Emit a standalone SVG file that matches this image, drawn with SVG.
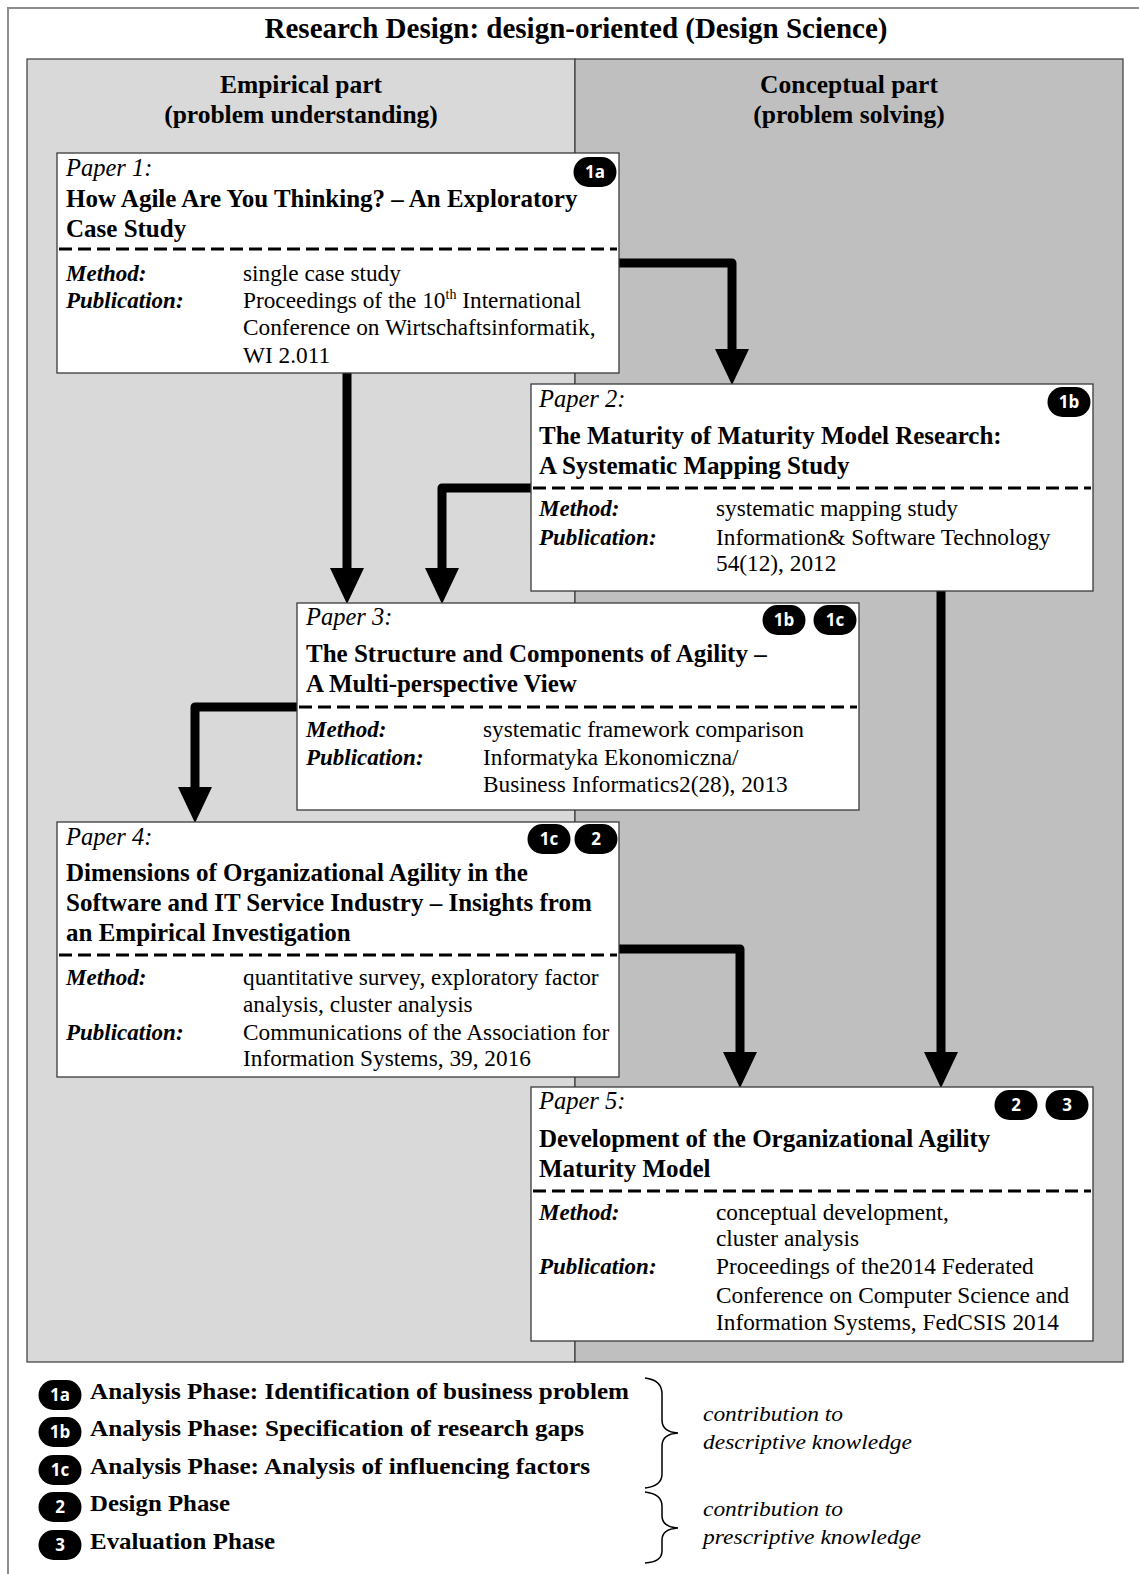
<svg xmlns="http://www.w3.org/2000/svg" width="1139" height="1574" viewBox="0 0 1139 1574">
  <style>
    .frame { fill: #ffffff; stroke: #8c8c8c; stroke-width: 2; }
    .panel { stroke: #3a3a3a; stroke-width: 1.2; }
    .box { fill: #ffffff; stroke: #3a3a3a; stroke-width: 1.3; }
    .sep { stroke: #000000; stroke-width: 3; stroke-dasharray: 13 6; }
    .t { font-family: "Liberation Serif", "Times New Roman", serif; fill: #000000; }
    .h1 { font-size: 29px; font-weight: bold; }
    .h2 { font-size: 25.5px; font-weight: bold; text-anchor: middle; }
    .lbl { font-size: 24.5px; font-style: italic; }
    .ttl { font-size: 25px; font-weight: bold; }
    .key { font-size: 23px; font-weight: bold; font-style: italic; }
    .val { font-size: 23.3px; }
    .leg { font-size: 23px; font-weight: bold; }
    .note { font-size: 21px; font-style: italic; }
    .badge rect { fill: #262626; stroke: #ffffff; stroke-width: 1; }
    .badge text { font-family: "Open Sans", "Noto Sans", sans-serif; font-size: 17px; font-weight: bold; fill: #ffffff; text-anchor: middle; }
    .arrow { fill: none; stroke: #000000; stroke-width: 9; stroke-linejoin: round; marker-end: url(#head); }
    .brace { fill: none; stroke: #000000; stroke-width: 1.5; }
  </style>
  <defs>
    <marker id="head" markerUnits="userSpaceOnUse" markerWidth="36" markerHeight="34" viewBox="0 0 36 34" refX="1" refY="17" orient="auto">
      <path d="M0,0 L36,17 L0,34 z" fill="#000000"/>
    </marker>
    <g id="pill">
      <rect x="-21.5" y="-15" width="43" height="30" rx="15" ry="15"/>
    </g>
  </defs>

  <!-- outer frame and title -->
  <rect class="frame" x="8" y="8" width="1140" height="1580"/>
  <text class="t h1" x="576" y="38" text-anchor="middle">Research Design: design-oriented (Design Science)</text>

  <!-- two columns -->
  <g id="columns">
    <rect class="panel" x="27" y="59" width="548" height="1303" fill="#d9d9d9"/>
    <rect class="panel" x="575" y="59" width="548" height="1303" fill="#bfbfbf"/>
    <text class="t h2" x="301" y="93">Empirical part</text>
    <text class="t h2" x="301" y="123">(problem understanding)</text>
    <text class="t h2" x="849" y="93">Conceptual part</text>
    <text class="t h2" x="849" y="123">(problem solving)</text>
  </g>

  <!-- connectors -->
  <g id="connectors">
    <path class="arrow" d="M619,263 H732 V350"/>
    <path class="arrow" d="M347,373 V569"/>
    <path class="arrow" d="M531,488 H442 V569"/>
    <path class="arrow" d="M297,707 H195 V788"/>
    <path class="arrow" d="M941,591 V1053"/>
    <path class="arrow" d="M619,949 H740 V1053"/>
  </g>

  <!-- Paper 1 -->
  <g id="paper1">
    <rect class="box" x="57" y="153" width="562" height="220"/>
    <text class="t lbl" x="66" y="176">Paper 1:</text>
    <text class="t ttl" x="66" y="207">How Agile Are You Thinking? – An Exploratory</text>
    <text class="t ttl" x="66" y="237">Case Study</text>
    <line class="sep" x1="59" y1="249" x2="617" y2="249"/>
    <text class="t key" x="66" y="281">Method:</text>
    <text class="t val" x="243" y="281">single case study</text>
    <text class="t key" x="66" y="308">Publication:</text>
    <text class="t val" x="243" y="308">Proceedings of the 10<tspan font-size="14" dy="-9">th</tspan><tspan dy="9"> International</tspan></text>
    <text class="t val" x="243" y="335">Conference on Wirtschaftsinformatik,</text>
    <text class="t val" x="243" y="363">WI 2.011</text>
    <g class="badge" transform="translate(595,172)"><use href="#pill"/><text y="6">1a</text></g>
  </g>

  <!-- Paper 2 -->
  <g id="paper2">
    <rect class="box" x="531" y="384" width="562" height="207"/>
    <text class="t lbl" x="539" y="407">Paper 2:</text>
    <text class="t ttl" x="539" y="444">The Maturity of Maturity Model Research:</text>
    <text class="t ttl" x="539" y="474">A Systematic Mapping Study</text>
    <line class="sep" x1="533" y1="488" x2="1091" y2="488"/>
    <text class="t key" x="539" y="516">Method:</text>
    <text class="t val" x="716" y="516">systematic mapping study</text>
    <text class="t key" x="539" y="545">Publication:</text>
    <text class="t val" x="716" y="545">Information&amp; Software Technology</text>
    <text class="t val" x="716" y="571">54(12), 2012</text>
    <g class="badge" transform="translate(1069,402)"><use href="#pill"/><text y="6">1b</text></g>
  </g>

  <!-- Paper 3 -->
  <g id="paper3">
    <rect class="box" x="297" y="603" width="562" height="207"/>
    <text class="t lbl" x="306" y="625">Paper 3:</text>
    <text class="t ttl" x="306" y="662">The Structure and Components of Agility –</text>
    <text class="t ttl" x="306" y="692">A Multi-perspective View</text>
    <line class="sep" x1="299" y1="707" x2="857" y2="707"/>
    <text class="t key" x="306" y="737">Method:</text>
    <text class="t val" x="483" y="737">systematic framework comparison</text>
    <text class="t key" x="306" y="765">Publication:</text>
    <text class="t val" x="483" y="765">Informatyka Ekonomiczna/</text>
    <text class="t val" x="483" y="792">Business Informatics2(28), 2013</text>
    <g class="badge" transform="translate(784,620)"><use href="#pill"/><text y="6">1b</text></g>
    <g class="badge" transform="translate(835,620)"><use href="#pill"/><text y="6">1c</text></g>
  </g>

  <!-- Paper 4 -->
  <g id="paper4">
    <rect class="box" x="57" y="822" width="562" height="255"/>
    <text class="t lbl" x="66" y="845">Paper 4:</text>
    <text class="t ttl" x="66" y="881">Dimensions of Organizational Agility in the</text>
    <text class="t ttl" x="66" y="911">Software and IT Service Industry – Insights from</text>
    <text class="t ttl" x="66" y="941">an Empirical Investigation</text>
    <line class="sep" x1="59" y1="955" x2="617" y2="955"/>
    <text class="t key" x="66" y="985">Method:</text>
    <text class="t val" x="243" y="985">quantitative survey, exploratory factor</text>
    <text class="t val" x="243" y="1012">analysis, cluster analysis</text>
    <text class="t key" x="66" y="1040">Publication:</text>
    <text class="t val" x="243" y="1040">Communications of the Association for</text>
    <text class="t val" x="243" y="1066">Information Systems, 39, 2016</text>
    <g class="badge" transform="translate(549,839)"><use href="#pill"/><text y="6">1c</text></g>
    <g class="badge" transform="translate(596,839)"><use href="#pill"/><text y="6">2</text></g>
  </g>

  <!-- Paper 5 -->
  <g id="paper5">
    <rect class="box" x="531" y="1087" width="562" height="254"/>
    <text class="t lbl" x="539" y="1109">Paper 5:</text>
    <text class="t ttl" x="539" y="1147">Development of the Organizational Agility</text>
    <text class="t ttl" x="539" y="1177">Maturity Model</text>
    <line class="sep" x1="533" y1="1191" x2="1091" y2="1191"/>
    <text class="t key" x="539" y="1220">Method:</text>
    <text class="t val" x="716" y="1220">conceptual development,</text>
    <text class="t val" x="716" y="1246">cluster analysis</text>
    <text class="t key" x="539" y="1274">Publication:</text>
    <text class="t val" x="716" y="1274">Proceedings of the2014 Federated</text>
    <text class="t val" x="716" y="1303">Conference on Computer Science and</text>
    <text class="t val" x="716" y="1330">Information Systems, FedCSIS 2014</text>
    <g class="badge" transform="translate(1016,1105)"><use href="#pill"/><text y="6">2</text></g>
    <g class="badge" transform="translate(1067,1105)"><use href="#pill"/><text y="6">3</text></g>
  </g>

  <!-- legend -->
  <g id="legend">
    <g class="badge" transform="translate(60,1395)"><use href="#pill"/><text y="6">1a</text></g>
    <g class="badge" transform="translate(60,1432)"><use href="#pill"/><text y="6">1b</text></g>
    <g class="badge" transform="translate(60,1470)"><use href="#pill"/><text y="6">1c</text></g>
    <g class="badge" transform="translate(60,1507)"><use href="#pill"/><text y="6">2</text></g>
    <g class="badge" transform="translate(60,1545)"><use href="#pill"/><text y="6">3</text></g>
    <text class="t leg" x="90" y="1399" textLength="539" lengthAdjust="spacingAndGlyphs">Analysis Phase:  Identification of business problem</text>
    <text class="t leg" x="90" y="1436" textLength="494" lengthAdjust="spacingAndGlyphs">Analysis Phase:  Specification of research gaps</text>
    <text class="t leg" x="90" y="1474" textLength="500" lengthAdjust="spacingAndGlyphs">Analysis Phase:  Analysis of influencing factors</text>
    <text class="t leg" x="90" y="1511" textLength="140" lengthAdjust="spacingAndGlyphs">Design Phase</text>
    <text class="t leg" x="90" y="1549" textLength="185" lengthAdjust="spacingAndGlyphs">Evaluation Phase</text>
    <path class="brace" d="M645,1378 Q662,1380 662,1394 V1420 Q662,1432 678,1433 Q662,1434 662,1446 V1474 Q662,1486 645,1488"/>
    <path class="brace" d="M645,1492 Q662,1494 662,1506 V1516 Q662,1527 678,1528 Q662,1529 662,1540 V1551 Q662,1562 645,1563"/>
    <text class="t note" x="703" y="1421" textLength="140" lengthAdjust="spacingAndGlyphs">contribution to</text>
    <text class="t note" x="703" y="1449" textLength="209" lengthAdjust="spacingAndGlyphs">descriptive knowledge</text>
    <text class="t note" x="703" y="1516" textLength="140" lengthAdjust="spacingAndGlyphs">contribution to</text>
    <text class="t note" x="703" y="1544" textLength="218" lengthAdjust="spacingAndGlyphs">prescriptive knowledge</text>
  </g>
</svg>
